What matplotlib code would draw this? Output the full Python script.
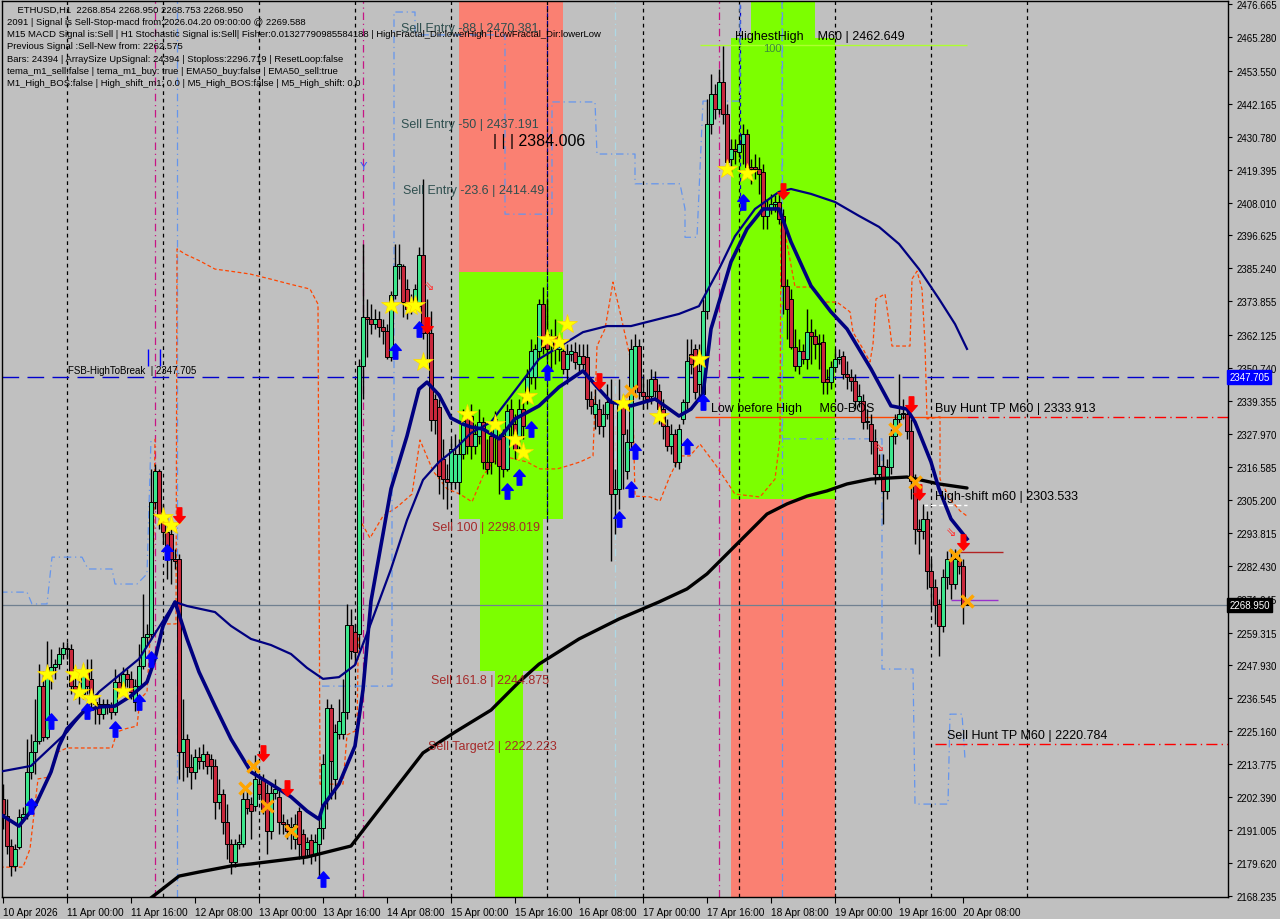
import matplotlib
matplotlib.use("Agg")
import matplotlib.pyplot as plt
from matplotlib.path import Path
from matplotlib.patches import Rectangle
import matplotlib.transforms as mtransforms

# ---------------- data ----------------
x_labels = ["10 Apr 2026", "11 Apr 00:00", "11 Apr 16:00", "12 Apr 08:00", "13 Apr 00:00",
            "13 Apr 16:00", "14 Apr 08:00", "15 Apr 00:00", "15 Apr 16:00", "16 Apr 08:00",
            "17 Apr 00:00", "17 Apr 16:00", "18 Apr 08:00", "19 Apr 00:00", "19 Apr 16:00",
            "20 Apr 08:00"]
x_label_bars = [0, 16, 32, 48, 64, 80, 96, 112, 128, 144, 160, 176, 192, 208, 224, 240]
day_sep_bars = [16, 40, 64, 88, 112, 136, 160, 184, 208, 232, 256]

y_ticks = [2476.665, 2465.280, 2453.550, 2442.165, 2430.780, 2419.395, 2408.010, 2396.625,
           2385.240, 2373.855, 2362.125, 2350.740, 2339.355, 2327.970, 2316.585, 2305.200,
           2293.815, 2282.430, 2271.045, 2259.315, 2247.930, 2236.545, 2225.160, 2213.775,
           2202.390, 2191.005, 2179.620, 2168.235]

opens = [2201.8, 2195.9, 2185.5, 2178.6, 2185.2, 2195.5, 2196.6, 2211.1, 2218.0, 2221.8,
         2240.8, 2223.2, 2245.7, 2247.4, 2248.4, 2251.9, 2254.0, 2253.6, 2240.8, 2239.8,
         2238.1, 2245.7, 2243.3, 2235.3, 2234.6, 2231.1, 2234.6, 2233.6, 2231.8, 2242.2,
         2239.8, 2245.0, 2243.3, 2235.3, 2240.8, 2247.7, 2257.8, 2258.8, 2304.5, 2315.2,
         2299.6, 2294.1, 2293.4, 2284.8, 2284.8, 2218.0, 2222.5, 2212.8, 2211.1, 2216.3,
         2214.9, 2217.3, 2215.6, 2213.2, 2200.7, 2203.5, 2193.8, 2186.2, 2180.0, 2186.2,
         2186.2, 2201.8, 2200.0, 2199.3, 2207.0, 2208.7, 2203.8, 2190.7, 2203.8, 2202.5,
         2193.8, 2193.1, 2190.7, 2187.9, 2197.6, 2189.7, 2184.5, 2187.6, 2182.4, 2186.2,
         2191.7, 2201.8, 2233.2, 2208.7, 2224.3, 2224.3, 2231.8, 2261.9, 2259.5, 2258.8,
         2351.5, 2368.4, 2367.8, 2366.0, 2367.8, 2365.0, 2363.6, 2354.6, 2376.0, 2386.1,
         2386.1, 2378.1, 2371.2, 2372.9, 2372.2, 2389.9, 2362.9, 2362.9, 2340.1, 2337.3,
         2319.3, 2312.4, 2311.4, 2311.4, 2311.4, 2321.1, 2334.2, 2334.2, 2323.8, 2327.3,
         2332.1, 2318.3, 2327.3, 2327.3, 2326.3, 2327.3, 2315.9, 2336.6, 2331.4, 2327.3,
         2336.6, 2340.1, 2347.7, 2347.7, 2356.7, 2372.9, 2362.6, 2359.1, 2361.9, 2357.4,
         2356.7, 2350.5, 2355.6, 2356.3, 2352.2, 2355.0, 2354.6, 2340.1, 2334.9, 2336.6,
         2330.7, 2334.9, 2339.0, 2307.2, 2309.0, 2339.0, 2315.2, 2325.2, 2344.6, 2358.4,
         2342.5, 2341.1, 2341.1, 2347.0, 2342.9, 2336.6, 2330.7, 2323.8, 2328.0, 2318.3,
         2333.2, 2339.0, 2355.6, 2357.4, 2345.3, 2341.8, 2370.5, 2435.2, 2445.5, 2440.4,
         2449.7, 2438.6, 2423.1, 2426.5, 2425.5, 2428.3, 2431.7, 2420.3, 2420.3, 2419.6,
         2418.6, 2403.4, 2405.8, 2407.5, 2408.2, 2403.4, 2379.2, 2374.7, 2358.1, 2351.5,
         2356.7, 2353.9, 2363.3, 2361.9, 2359.1, 2359.8, 2347.0, 2346.0, 2351.1, 2353.9,
         2354.9, 2348.7, 2347.7, 2346.3, 2339.4, 2339.4, 2332.1, 2331.4, 2325.6, 2314.1,
         2316.9, 2308.3, 2316.6, 2327.3, 2333.2, 2334.9, 2334.9, 2329.0, 2311.7, 2295.1,
         2294.4, 2298.6, 2280.6, 2275.1, 2269.2, 2261.6, 2278.5, 2284.8, 2276.1, 2284.1,
         2282.4, 2268.854]
highs = [2207.0, 2201.8, 2187.9, 2186.2, 2198.3, 2199.0, 2222.5, 2224.3, 2236.3, 2248.4,
         2246.0, 2256.4, 2253.6, 2250.2, 2254.3, 2256.0, 2256.0, 2255.4, 2246.7, 2243.3,
         2248.4, 2250.2, 2250.2, 2238.1, 2237.0, 2236.3, 2236.3, 2235.3, 2246.7, 2245.0,
         2247.4, 2246.7, 2246.0, 2243.3, 2255.4, 2272.6, 2262.3, 2315.9, 2317.6, 2315.9,
         2303.8, 2299.3, 2295.1, 2288.2, 2286.5, 2236.3, 2224.3, 2217.3, 2219.1, 2219.7,
         2220.8, 2218.4, 2217.3, 2215.6, 2208.7, 2205.2, 2200.0, 2187.9, 2187.9, 2189.7,
         2205.2, 2205.2, 2202.5, 2217.0, 2210.4, 2210.4, 2207.0, 2207.0, 2208.7, 2205.2,
         2196.6, 2194.8, 2195.5, 2196.6, 2199.0, 2191.4, 2188.6, 2189.7, 2189.7, 2194.8,
         2217.3, 2236.3, 2234.6, 2227.7, 2236.3, 2243.3, 2269.2, 2267.5, 2262.3, 2353.9,
         2393.7, 2374.7, 2372.9, 2371.2, 2370.5, 2367.8, 2366.0, 2377.4, 2393.7, 2393.7,
         2386.8, 2381.6, 2376.4, 2379.8, 2392.6, 2416.2, 2374.7, 2370.5, 2341.8, 2340.1,
         2326.3, 2317.6, 2326.3, 2328.0, 2326.3, 2336.6, 2336.6, 2338.4, 2331.4, 2336.6,
         2333.9, 2326.3, 2329.7, 2335.9, 2328.0, 2329.7, 2338.4, 2340.1, 2334.9, 2340.1,
         2341.8, 2350.5, 2360.8, 2359.1, 2374.7, 2378.8, 2374.7, 2364.3, 2367.8, 2362.6,
         2360.8, 2359.1, 2359.1, 2359.8, 2359.1, 2359.1, 2359.1, 2342.9, 2343.6, 2340.1,
         2338.4, 2345.3, 2347.0, 2315.9, 2347.0, 2341.8, 2329.7, 2360.8, 2362.6, 2360.8,
         2348.7, 2347.0, 2350.5, 2349.8, 2345.3, 2340.1, 2333.2, 2331.4, 2329.7, 2331.4,
         2340.1, 2360.8, 2360.8, 2359.1, 2359.1, 2374.7, 2443.8, 2452.5, 2449.0, 2454.2,
         2462.1, 2442.1, 2430.0, 2430.0, 2431.7, 2435.2, 2433.4, 2423.1, 2424.8, 2423.8,
         2421.3, 2409.2, 2411.0, 2410.6, 2411.0, 2405.8, 2381.6, 2378.1, 2364.3, 2360.8,
         2359.1, 2371.2, 2367.8, 2364.3, 2362.6, 2362.6, 2350.5, 2353.2, 2357.4, 2357.4,
         2356.7, 2353.2, 2350.5, 2348.7, 2345.3, 2341.8, 2336.6, 2334.9, 2329.7, 2321.1,
         2321.1, 2319.3, 2329.7, 2334.9, 2348.7, 2340.1, 2336.6, 2333.2, 2314.1, 2298.6,
         2303.8, 2301.4, 2284.8, 2277.8, 2270.9, 2281.3, 2287.5, 2288.2, 2288.2, 2286.5,
         2284.8, 2268.950]
lows = [2191.4, 2182.7, 2175.1, 2176.9, 2184.5, 2194.1, 2194.8, 2208.7, 2210.4, 2220.8,
        2221.8, 2222.5, 2239.8, 2243.3, 2246.7, 2250.2, 2250.2, 2238.1, 2236.3, 2234.6,
        2236.3, 2238.1, 2232.9, 2227.7, 2227.7, 2229.4, 2231.1, 2229.4, 2230.8, 2238.1,
        2238.8, 2240.5, 2236.3, 2232.2, 2239.8, 2246.7, 2255.4, 2257.1, 2302.1, 2295.1,
        2289.9, 2277.8, 2276.1, 2281.3, 2208.7, 2208.0, 2209.4, 2205.2, 2208.7, 2212.1,
        2212.1, 2210.4, 2208.7, 2194.8, 2198.3, 2189.7, 2181.0, 2175.8, 2178.3, 2184.5,
        2185.2, 2196.6, 2187.9, 2197.6, 2201.8, 2196.6, 2182.7, 2187.9, 2201.8, 2189.7,
        2189.7, 2187.9, 2184.5, 2184.5, 2181.0, 2179.3, 2181.7, 2179.3, 2180.3, 2174.4,
        2187.9, 2198.3, 2201.8, 2201.8, 2222.5, 2222.5, 2229.4, 2250.2, 2248.4, 2253.6,
        2340.1, 2354.6, 2362.6, 2364.3, 2361.5, 2359.1, 2353.9, 2353.2, 2374.7, 2381.6,
        2368.4, 2367.8, 2369.5, 2371.2, 2370.5, 2360.8, 2353.9, 2329.0, 2328.0, 2307.2,
        2305.5, 2302.1, 2309.0, 2309.0, 2307.2, 2319.3, 2321.1, 2319.3, 2321.1, 2324.5,
        2315.9, 2314.1, 2314.1, 2317.6, 2307.2, 2313.1, 2315.2, 2326.3, 2319.3, 2322.8,
        2326.3, 2338.4, 2345.3, 2343.6, 2353.9, 2355.6, 2353.9, 2350.5, 2352.2, 2353.2,
        2348.7, 2345.3, 2353.2, 2350.5, 2348.7, 2350.5, 2336.6, 2334.9, 2329.7, 2328.0,
        2326.9, 2333.2, 2284.1, 2293.4, 2302.1, 2309.0, 2312.4, 2322.8, 2341.8, 2340.1,
        2336.6, 2336.6, 2338.4, 2340.1, 2331.4, 2326.3, 2322.1, 2321.1, 2316.6, 2315.9,
        2331.4, 2336.6, 2348.7, 2340.1, 2340.8, 2340.1, 2367.8, 2431.7, 2436.9, 2438.6,
        2435.2, 2419.6, 2417.9, 2421.3, 2423.8, 2421.3, 2416.8, 2414.4, 2416.2, 2411.0,
        2398.9, 2398.9, 2404.1, 2404.7, 2400.6, 2369.5, 2360.8, 2357.4, 2349.8, 2348.7,
        2352.2, 2350.5, 2352.2, 2353.9, 2350.5, 2341.8, 2341.8, 2343.6, 2349.4, 2352.2,
        2347.0, 2343.6, 2342.9, 2336.6, 2337.3, 2329.7, 2329.7, 2321.1, 2310.7, 2312.4,
        2296.8, 2305.5, 2314.1, 2324.5, 2331.4, 2333.2, 2326.3, 2305.5, 2289.9, 2286.5,
        2291.7, 2274.4, 2267.5, 2262.3, 2251.2, 2259.5, 2274.4, 2270.9, 2274.4, 2279.6,
        2262.3, 2268.753]
closes = [2196.6, 2185.5, 2178.6, 2184.5, 2195.5, 2196.6, 2211.1, 2218.0, 2221.8, 2240.8,
          2223.2, 2245.7, 2247.4, 2248.4, 2251.9, 2254.0, 2253.6, 2240.8, 2239.8, 2238.1,
          2245.7, 2240.8, 2235.3, 2234.6, 2231.1, 2234.6, 2233.6, 2231.8, 2242.2, 2239.8,
          2245.0, 2243.3, 2238.8, 2240.8, 2247.7, 2257.8, 2258.8, 2304.5, 2315.2, 2299.6,
          2294.1, 2287.2, 2284.8, 2284.1, 2218.0, 2222.5, 2212.8, 2211.1, 2216.3, 2214.9,
          2217.3, 2213.2, 2213.2, 2200.7, 2203.5, 2193.8, 2186.2, 2180.0, 2186.2, 2186.9,
          2201.8, 2198.6, 2197.6, 2208.7, 2203.5, 2198.3, 2190.7, 2203.8, 2205.2, 2193.8,
          2193.1, 2190.7, 2192.1, 2193.1, 2186.2, 2181.7, 2186.9, 2182.4, 2186.9, 2191.7,
          2213.9, 2233.2, 2214.9, 2224.9, 2228.7, 2231.8, 2261.9, 2252.9, 2252.6, 2351.5,
          2368.4, 2367.8, 2366.0, 2367.8, 2365.0, 2363.6, 2354.6, 2376.0, 2386.1, 2386.8,
          2373.6, 2371.2, 2372.9, 2378.1, 2389.9, 2362.9, 2363.6, 2332.8, 2332.8, 2313.5,
          2312.4, 2311.4, 2322.8, 2321.1, 2321.1, 2332.5, 2323.8, 2323.8, 2328.0, 2332.1,
          2318.3, 2315.9, 2318.3, 2333.2, 2316.9, 2315.9, 2335.9, 2331.4, 2322.8, 2336.6,
          2330.7, 2347.7, 2356.7, 2357.4, 2372.9, 2358.1, 2357.4, 2361.9, 2357.4, 2359.8,
          2350.5, 2355.6, 2356.7, 2352.9, 2355.0, 2352.2, 2340.1, 2337.7, 2338.4, 2330.7,
          2334.9, 2339.0, 2307.2, 2309.0, 2339.0, 2328.0, 2325.2, 2357.4, 2358.4, 2342.5,
          2341.1, 2340.1, 2347.0, 2342.9, 2336.6, 2330.7, 2323.8, 2328.0, 2318.3, 2329.7,
          2339.0, 2353.2, 2352.2, 2342.5, 2349.8, 2370.5, 2435.2, 2445.5, 2440.4, 2449.7,
          2438.6, 2422.0, 2426.5, 2425.8, 2428.3, 2431.7, 2420.3, 2419.6, 2419.6, 2417.9,
          2403.4, 2405.8, 2407.5, 2408.2, 2402.3, 2379.2, 2371.2, 2358.1, 2351.5, 2356.7,
          2353.9, 2363.3, 2361.9, 2359.1, 2359.1, 2346.0, 2346.0, 2351.1, 2353.9, 2354.6,
          2348.7, 2347.7, 2346.3, 2339.4, 2341.1, 2332.1, 2332.5, 2325.6, 2314.1, 2316.9,
          2308.3, 2316.6, 2327.3, 2333.2, 2334.9, 2334.9, 2329.0, 2311.7, 2295.1, 2294.4,
          2298.6, 2280.6, 2275.1, 2268.8, 2261.6, 2278.5, 2284.8, 2276.1, 2284.8, 2282.4,
          2268.854, 2268.950]

# moving averages, read at sampled bars
fast_ma_bars = [0, 4, 8, 12, 14, 16, 20, 24, 28, 32, 36, 38, 40, 43, 46, 49, 53, 57, 62, 67, 72,
                76, 79, 80, 84, 88, 90, 92, 95, 97, 101, 104, 106, 109, 112, 115, 117, 120, 124,
                128, 134, 139, 145, 149, 152, 157, 163, 169, 172, 175, 177, 182, 186, 190, 194,
                197, 202, 207, 211, 214, 217, 222, 226, 228, 232, 234, 237, 241]
fast_ma = [2195.9, 2192.4, 2199.3, 2211.1, 2220.1, 2226.0, 2231.8, 2233.6, 2233.9, 2237.4,
           2242.2, 2250.2, 2261.6, 2269.9, 2257.1, 2245.7, 2233.9, 2222.5, 2211.1, 2206.9,
           2202.5, 2197.6, 2194.8, 2199.3, 2206.9, 2220.1, 2239.5, 2270.2, 2293.4, 2309.0,
           2327.3, 2343.5, 2345.9, 2341.5, 2333.5, 2331.4, 2330.4, 2329.7, 2326.3, 2333.2,
           2337.7, 2344.2, 2349.8, 2343.5, 2339.0, 2337.7, 2340.1, 2334.2, 2336.6, 2341.8,
           2364.3, 2387.5, 2398.9, 2405.8, 2405.8, 2394.4, 2379.2, 2370.2, 2364.3, 2357.4,
           2350.5, 2337.7, 2336.6, 2332.1, 2318.3, 2309.0, 2298.6, 2291.7]
mid_ma_bars = [0, 7, 16, 24, 34, 43, 46, 53, 57, 62, 67, 72, 76, 80, 84, 88, 92, 97, 101, 105,
               109, 113, 117, 122, 134, 145, 151, 157, 169, 174, 179, 183, 188, 194, 197, 202,
               208, 214, 219, 224, 229, 234, 238, 241]
mid_ma = [2211.4, 2213.2, 2224.9, 2238.8, 2250.2, 2269.9, 2268.5, 2266.4, 2261.6, 2257.1,
          2255.0, 2251.9, 2247.1, 2243.3, 2243.9, 2248.1, 2262.6, 2281.3, 2298.2, 2312.1,
          2318.3, 2322.8, 2328.3, 2332.1, 2353.9, 2363.2, 2365.3, 2365.3, 2369.5, 2372.2,
          2385.0, 2396.4, 2405.8, 2411.7, 2412.7, 2411.0, 2408.2, 2403.4, 2399.6, 2393.7,
          2385.0, 2374.7, 2366.0, 2357.4]
slow_ma_bars = [36, 44, 49, 57, 62, 76, 87, 92, 105, 113, 122, 129, 134, 144, 154, 164, 171,
                176, 181, 186, 191, 196, 201, 206, 211, 217, 226, 234, 241]
slow_ma = [2166.5, 2175.1, 2176.5, 2178.6, 2179.3, 2181.7, 2185.5, 2194.5, 2217.7, 2224.9,
           2232.5, 2242.2, 2248.4, 2257.1, 2264.0, 2269.9, 2274.4, 2279.6, 2286.5, 2293.4,
           2300.3, 2303.8, 2306.5, 2308.3, 2310.7, 2312.4, 2313.1, 2310.7, 2309.3]

# channel / stop lines (orange dashed, light blue dash-dot)
orange1_bars = [-0.75, 5, 6.75, 8.75, 11.75, 13.75, 16, 27.25, 28.5, 30.5, 33.5, 34.25, 36,
                36.75, 37.5, 38]
orange1 = [2178.2, 2178.2, 2184.5, 2208.7, 2209.4, 2218.0, 2219.4, 2219.4, 2224.9, 2226.0,
           2227.0, 2236.3, 2238.8, 2257.1, 2271.9, 2326.3]
orange2_bars = [41, 43.25, 43.5, 45.5, 49.25, 53, 56.75, 61.75, 66.75, 71.75, 76.75, 78.75,
                79.25, 85, 86, 88.5, 89.25, 91.75, 95, 98.5, 102.25, 104.25, 107.5, 111, 114.25,
                117.25, 120, 122.5, 126, 131, 134.25, 138.5, 141, 144.25, 147.5, 148.5, 150.5,
                152.5, 154.25, 157.25, 158, 161.75, 164.25, 166.75, 169.25, 171.75, 174.25, 178,
                183, 189.25, 193, 194.25, 194.5, 197.5, 198, 202.5, 205, 208.5, 211.75, 212.5,
                215, 216.75, 217.5, 218.25, 220.5, 221.75, 222.25, 226.75, 227.25, 228.5, 229.75,
                230.5, 231, 234.25, 234.25, 236.75, 239.25, 241]
orange2 = [2262.3, 2262.3, 2392.0, 2390.2, 2387.8, 2385.0, 2384.3, 2383.3, 2381.6, 2379.8,
           2378.1, 2372.9, 2206.9, 2206.9, 2223.9, 2225.6, 2298.2, 2292.0, 2299.6, 2302.7,
           2307.2, 2325.9, 2315.2, 2309.0, 2307.2, 2304.5, 2313.5, 2318.3, 2320.0, 2318.3,
           2315.9, 2315.9, 2316.9, 2318.3, 2320.4, 2358.4, 2364.3, 2380.5, 2370.2, 2351.5,
           2306.5, 2306.2, 2304.8, 2313.5, 2320.4, 2320.4, 2324.5, 2317.6, 2307.2, 2306.2,
           2312.4, 2326.3, 2405.1, 2382.6, 2378.8, 2378.8, 2373.6, 2373.6, 2370.2, 2363.2,
           2357.4, 2352.9, 2359.1, 2374.7, 2376.4, 2364.3, 2358.4, 2358.4, 2381.6, 2384.3,
           2378.1, 2359.1, 2333.2, 2333.9, 2312.4, 2305.5, 2301.4, 2299.6]
blue1_bars = [-0.75, 6, 7.25, 11, 12.25, 19.75, 21.25, 27.25, 28, 33.5, 36, 37]
blue1 = [2273.3, 2273.3, 2269.2, 2269.2, 2285.4, 2285.4, 2281.3, 2281.3, 2276.1, 2276.1,
         2279.6, 2326.3]
blue2_bars = [79.75, 97.25, 97.25, 97.75, 97.75, 103, 103, 125.5, 125.5, 137.25, 137.25, 148,
              148.5, 158, 158, 169.25, 170.5, 170.5, 173.5, 175, 184.25, 184.25]
blue2 = [2240.8, 2240.8, 2329.0, 2329.0, 2473.9, 2473.9, 2466.0, 2466.0, 2404.0, 2404.0,
         2442.8, 2442.8, 2424.8, 2424.8, 2414.5, 2414.5, 2405.8, 2396.0, 2396.0, 2443.1,
         2443.1, 2477.7]
blue3_bars = [194.75, 194.75, 219.75, 219.75, 227.5, 228, 236.25, 236.75, 239.75, 240.5]
blue3 = [2477.7, 2326.3, 2326.3, 2246.7, 2246.7, 2200.0, 2200.0, 2231.1, 2231.1, 2215.6]

# signals (bar, price)
star_bars = [11, 18, 20, 19, 22, 30, 40, 42, 97, 102, 103, 105, 116, 123, 128, 130, 131, 136,
             139, 141, 155, 164, 174, 181, 186]
star_prices = [2245.0, 2245.0, 2245.7, 2238.8, 2236.7, 2239.1, 2299.3, 2296.5, 2372.6, 2372.2,
               2372.6, 2352.9, 2334.9, 2331.4, 2326.3, 2321.8, 2341.1, 2360.8, 2359.8, 2366.0,
               2338.7, 2334.2, 2353.9, 2419.6, 2418.2]
buy_bars = [7, 12, 21, 28, 34, 37, 41, 80, 98, 104, 126, 129, 132, 136, 154, 157, 158, 171,
            175, 185]
buy_prices = [2199.3, 2228.7, 2232.2, 2226.0, 2235.3, 2250.2, 2287.2, 2174.1, 2356.7, 2364.3,
              2308.3, 2313.1, 2329.7, 2349.4, 2298.6, 2309.0, 2322.1, 2323.8, 2339.0, 2408.2]
sell_bars = [44, 65, 71, 106, 149, 195, 227, 229, 240]
sell_prices = [2300.0, 2217.7, 2205.6, 2365.7, 2346.3, 2412.0, 2338.4, 2307.9, 2290.6]
cross_bars = [60.5, 62.5, 66, 72, 157, 223, 228, 238, 241]
cross_prices = [2205.6, 2213.2, 2199.3, 2190.7, 2342.8, 2329.7, 2311.4, 2286.1, 2270.2]
hollow_bars = [106.5, 219, 237]
hollow_prices = [2379.2, 2323.8, 2294.4]

# levels
fsb_level = 2347.705
last_price = 2268.950
highest_high = 2462.649
buy_hunt_tp = 2333.913
high_shift = 2303.533
sell_hunt_tp = 2220.784
sell_levels = [("Sell Entry -88 | 2470.381", 2470.381, 99.5, "#2f4f4f"),
               ("Sell Entry -50 | 2437.191", 2437.191, 99.5, "#2f4f4f"),
               ("Sell Entry -23.6 | 2414.49", 2414.49, 100, "#2f4f4f"),
               ("Sell 100 | 2298.019", 2298.019, 107.25, "#a52a2a"),
               ("Sell 161.8 | 2244.875", 2244.875, 107, "#a52a2a"),
               ("Sell Target2 | 2222.223", 2222.223, 106.25, "#a52a2a")]

# zones (bar_from, bar_to, price_low, price_high, colour)
zones = [(114, 140, 2384.0, 2478.0, "#fa8072"),
         (114, 140, 2298.6, 2384.0, "#7cff00"),
         (119.25, 135, 2246.0, 2298.6, "#7cff00"),
         (123, 130, 2166.0, 2246.0, "#7cff00"),
         (187, 203, 2465.0, 2478.0, "#7cff00"),
         (182, 208, 2305.5, 2465.0, "#7cff00"),
         (182, 208, 2166.0, 2305.5, "#fa8072")]

info_lines = ["    ETHUSD,H1  2268.854 2268.950 2268.753 2268.950",
              "2091 | Signal is Sell-Stop-macd from:2026.04.20 09:00:00 @ 2269.588",
              "M15 MACD Signal is:Sell | H1 Stochastic Signal is:Sell| Fisher:0.01327790985584188 | HighFractal_Dir:lowerHigh | LowFractal_Dir:lowerLow",
              "Previous Signal :Sell-New from: 2262.575",
              "Bars: 24394 | ArraySize UpSignal: 24394 | Stoploss:2296.719 | ResetLoop:false",
              "tema_m1_sell:false | tema_m1_buy: true | EMA50_buy:false | EMA50_sell:true",
              "M1_High_BOS:false | High_shift_m1: 0.0 | M5_High_BOS:false | M5_High_shift: 0.0"]

# ---------------- figure ----------------
BG = "#c0c0c0"
AXF = "Liberation Sans"
fig = plt.figure(figsize=(12.8, 9.2), dpi=100)
fig.patch.set_facecolor(BG)
ax = fig.add_axes([2 / 1280, 1 - 898 / 920, 1226 / 1280, 896 / 920])
ax.set_facecolor(BG)
ax.set_xlim(-0.25, 306.25)
ax.set_ylim(2167.87, 2477.71)

for b0, b1, lo, hi, col in zones:
    ax.add_patch(Rectangle((b0, lo), b1 - b0, hi - lo, facecolor=col, edgecolor="none", zorder=0.5))

# vertical separators
for b in day_sep_bars:
    ax.axvline(b, color="black", lw=0.9, ls=(0, (3, 3)), zorder=1)
for b in [38, 90, 179]:
    ax.axvline(b, color="#c71585", lw=0.9, ls=(0, (6, 3, 1, 3)), zorder=1)
for b in [43.5, 194.75]:
    ax.axvline(b, color="#6495ed", lw=0.9, ls=(0, (6, 3, 1, 3)), zorder=1)
ax.axvline(153, color="#add8e6", lw=0.9, ls=(0, (6, 3, 1, 3)), zorder=1)
ax.vlines(136, 2298.6, 2478, color="#00008b", lw=0.9, ls=(0, (3, 3)), zorder=1)
ax.vlines(184.25, 2405, 2478, color="#0000cd", lw=0.9, ls=(0, (3, 3)), zorder=1)
ax.vlines([36.25, 39.25], 2351.5, 2357.5, color="#0000ff", lw=1.0, zorder=1)
ax.text(90, 2420.5, "Y", color="#3050ff", fontsize=8, ha="center", va="center", family=AXF)

# horizontal levels
ax.axhline(fsb_level, color="#0000cd", lw=1.0, ls=(0, (12, 6)), zorder=1.2)
ax.axhline(last_price, color="#708090", lw=0.9, zorder=1.2)
ax.hlines(highest_high, 174.25, 241, color="#adff2f", lw=1.0, zorder=1.2)
ax.hlines(buy_hunt_tp, 173, 241, color="#ff4500", lw=1.0, zorder=1.2)
ax.hlines(buy_hunt_tp, 241, 306.25, color="#ff0000", lw=1.0, ls=(0, (8, 3, 1, 3)), zorder=1.2)
ax.hlines(sell_hunt_tp, 233, 306.25, color="#ff0000", lw=1.0, ls=(0, (8, 3, 1, 3)), zorder=1.2)
ax.hlines(high_shift, 229.75, 241, color="white", lw=1.0, ls=(0, (4, 2)), zorder=1.2)
ax.hlines(2287.2, 238, 250, color="#b22222", lw=1.0, zorder=1.2)
ax.hlines(2270.6, 237, 248.75, color="#9932cc", lw=1.0, zorder=1.2)

# channel lines
ax.plot(orange1_bars, orange1, color="#ff4500", lw=0.9, ls=(0, (3, 2)), zorder=1.5)
ax.plot(orange2_bars, orange2, color="#ff4500", lw=0.9, ls=(0, (3, 2)), zorder=1.5)
for bx, by in [(blue1_bars, blue1), (blue2_bars, blue2), (blue3_bars, blue3)]:
    ax.plot(bx, by, color="#6495ed", lw=0.9, ls=(0, (6, 3, 1, 3)), zorder=1.5)

# candles
for i in range(len(closes)):
    o, h, l, c = opens[i], highs[i], lows[i], closes[i]
    ax.vlines(i, l, h, color="black", lw=1.0, zorder=2)
    up = c >= o
    bot = min(o, c)
    hgt = max(abs(c - o), 0.35)
    ax.add_patch(Rectangle((i - 0.38, bot), 0.76, hgt,
                           facecolor="#3ce68c" if up else "#c8283c",
                           edgecolor="black", lw=0.7, zorder=2.1))

# moving averages
ax.plot(slow_ma_bars, slow_ma, color="black", lw=2.4, zorder=3, solid_capstyle="round")
ax.plot(mid_ma_bars, mid_ma, color="#000080", lw=1.6, zorder=3)
ax.plot(fast_ma_bars, fast_ma, color="#000080", lw=2.6, zorder=3.1)

# signal markers
up_arrow = Path([(0, 1), (0.75, 0.15), (0.3, 0.15), (0.3, -1), (-0.3, -1), (-0.3, 0.15),
                 (-0.75, 0.15), (0, 1)],
                [Path.MOVETO] + [Path.LINETO] * 6 + [Path.CLOSEPOLY])
down_arrow = Path([(x, -y) for x, y in up_arrow.vertices], up_arrow.codes)
ax.plot(star_bars, star_prices, ls="none", marker="*", ms=15, mfc="#ffff00", mec="#ffd700",
        mew=0.5, zorder=4)
ax.plot(buy_bars, buy_prices, ls="none", marker=up_arrow, ms=11, mfc="#0000ff", mec="#0000ff",
        zorder=4)
ax.plot(sell_bars, sell_prices, ls="none", marker=down_arrow, ms=11, mfc="#ff0000",
        mec="#ff0000", zorder=4)
ax.plot(cross_bars, cross_prices, ls="none", marker="x", ms=8, mec="#ffa500", mew=2.5, zorder=4)
for bx, by in zip(hollow_bars, hollow_prices):
    ax.text(bx, by, "\u21d8", color="#ff3030", fontsize=9, ha="center", va="center", zorder=4,
            family="DejaVu Sans")

# level texts
lab_font = "Liberation Sans"
for txt, lvl, bx, col in sell_levels:
    ax.text(bx, lvl, txt, color=col, fontsize=9, va="top", ha="left", family=lab_font, zorder=5)
ax.text(122.5, 2429.3, "| | | 2384.006", color="black", fontsize=11.5, va="center", ha="left",
        family=lab_font, zorder=5)
ax.text(16.25, fsb_level + 0.6, "FSB-HighToBreak  | 2347.705", color="black", fontsize=7,
        va="bottom", ha="left", family=lab_font, zorder=5)
ax.text(183, highest_high + 1.0, "HighestHigh    M60 | 2462.649", color="black", fontsize=9,
        va="bottom", ha="left", family=lab_font, zorder=5)
ax.text(190, highest_high + 0.5, "100", color="#3c8c3c", fontsize=8, va="top", ha="left",
        family=lab_font, zorder=5)
ax.text(177, buy_hunt_tp + 1.0, "Low before High     M60-BOS", color="black", fontsize=9,
        va="bottom", ha="left", family=lab_font, zorder=5)
ax.text(233, buy_hunt_tp + 1.0, "Buy Hunt TP M60 | 2333.913", color="black", fontsize=9,
        va="bottom", ha="left", family=lab_font, zorder=5)
ax.text(233, high_shift + 1.0, "High-shift m60 | 2303.533", color="black", fontsize=9,
        va="bottom", ha="left", family=lab_font, zorder=5)
ax.text(236, sell_hunt_tp + 1.0, "Sell Hunt TP M60 | 2220.784", color="black", fontsize=9,
        va="bottom", ha="left", family=lab_font, zorder=5)

# info block
for k, line in enumerate(info_lines):
    fig.text(7 / 1280, 1 - (10 + 12.3 * k) / 920, line, fontsize=6.8, color="black",
             family=lab_font, va="center", ha="left")

# axes styling
for s in ax.spines.values():
    s.set_color("black")
    s.set_linewidth(1.0)
ax.yaxis.tick_right()
ax.set_yticks(y_ticks)
ax.set_yticklabels([f"{v:.3f}" for v in y_ticks], fontsize=7, family=AXF)
ax.tick_params(axis="y", direction="out", length=3, pad=3, colors="black")
ax.set_xticks(x_label_bars)
ax.set_xticklabels(x_labels, fontsize=7.3, family=AXF, ha="left")
ax.tick_params(axis="x", direction="out", length=4, pad=3, colors="black")

# price boxes on the right axis
trans = mtransforms.blended_transform_factory(ax.transAxes, ax.transData)
ax.text(1.001, fsb_level, "2347.705", transform=trans, fontsize=7, color="white",
        va="center", ha="left", family=AXF, clip_on=False, zorder=6,
        bbox=dict(boxstyle="square,pad=0.2", fc="#0000ff", ec="#0000ff"))
ax.text(1.001, last_price, "2268.950", transform=trans, fontsize=7, color="white",
        va="center", ha="left", family=AXF, clip_on=False, zorder=6,
        bbox=dict(boxstyle="square,pad=0.2", fc="black", ec="black"))

fig.savefig("out.png", dpi=100, facecolor=BG)
